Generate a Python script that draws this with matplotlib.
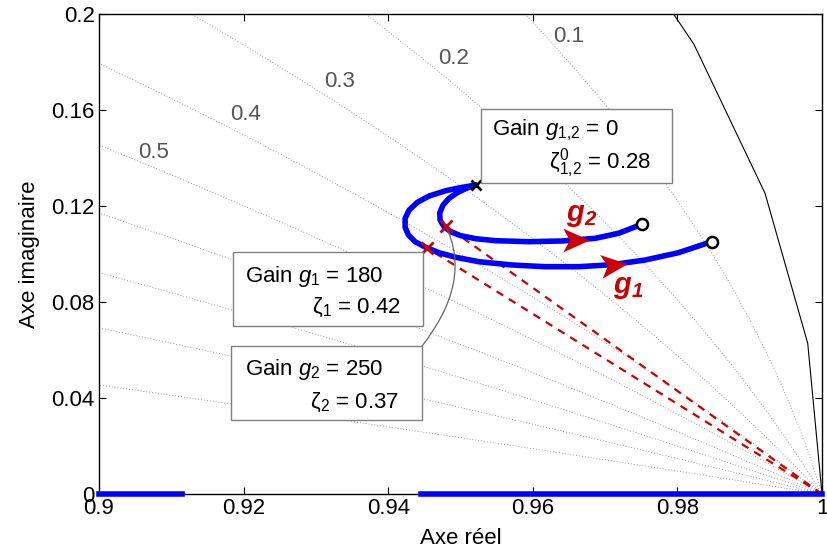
import numpy as np
import matplotlib
matplotlib.use('Agg')
import matplotlib.pyplot as plt
from matplotlib.markers import MarkerStyle
from matplotlib.path import Path
from matplotlib.patches import Rectangle
from matplotlib.transforms import Affine2D

plt.rcParams['font.family'] = 'Liberation Sans'
plt.rcParams['mathtext.fontset'] = 'custom'
plt.rcParams['mathtext.rm'] = 'Liberation Sans'
plt.rcParams['mathtext.it'] = 'Liberation Sans:italic'
plt.rcParams['mathtext.bf'] = 'Liberation Sans:bold:italic'

locus_g1_re = [0.95214, 0.95025, 0.94796, 0.94566, 0.94404, 0.9429, 0.94234, 0.94234, 0.9428,
               0.94372, 0.9452, 0.94703, 0.94934, 0.95255, 0.95714, 0.96175, 0.96634, 0.97094,
               0.97554, 0.98014, 0.98473]
locus_g1_im = [0.12875, 0.12779, 0.12638, 0.12417, 0.12154, 0.11833, 0.11488, 0.11113, 0.10792,
               0.10513, 0.10279, 0.10054, 0.09863, 0.09679, 0.09542, 0.09471, 0.09471, 0.09554,
               0.0975, 0.10054, 0.10513]
locus_g2_re = [0.95214, 0.9508, 0.94956, 0.94841, 0.94759, 0.94713, 0.94717, 0.94772, 0.94865,
               0.95003, 0.9521, 0.95486, 0.95945, 0.96404, 0.96865, 0.97186, 0.97508]
locus_g2_im = [0.12875, 0.12738, 0.12554, 0.12321, 0.12042, 0.11721, 0.11417, 0.11138, 0.10929,
               0.10763, 0.10638, 0.10554, 0.10513, 0.10542, 0.10654, 0.10863, 0.11238]
real_branches = [(0.9, 0.9115), (0.9445, 1.0)]

pole = (0.95214, 0.12875)
zeros_re = [0.98473, 0.97508]
zeros_im = [0.10513, 0.11238]
sel_re = [0.94538, 0.94795]     # g1 = 180, g2 = 250
sel_im = [0.1025, 0.1118]
origin = (1.0, 0.0)

arrow_re = [0.97117, 0.96593]
arrow_im = [0.09542, 0.10575]
arrow_ang = [6, 0]

zetas = [0.1, 0.2, 0.3, 0.4, 0.5, 0.6, 0.7, 0.8, 0.9]
zeta_lbl_re = [0.9650, 0.9491, 0.9333, 0.9203, 0.9076]
zeta_lbl_im = [0.1908, 0.1813, 0.1717, 0.1583, 0.1425]

blue = '#0000FF'
red = '#CC0000'

fig = plt.figure(figsize=(8.28, 5.57), dpi=100)
ax = fig.add_axes([99/828, 63/557, 723/828, 480/557])

# damping grid (zgrid style)
for z in zetas:
    w = np.linspace(0, np.pi / np.sqrt(1 - z**2), 400)
    s = np.exp(w * (-z + 1j * np.sqrt(1 - z**2)))
    ax.plot(s.real, s.imag, ls=(0, (1, 2.5)), color='0.5', lw=0.6, zorder=1)
for lbl, xr, yi in zip(zetas, zeta_lbl_re, zeta_lbl_im):
    ax.text(xr, yi, str(lbl), color='#555555', fontsize=16, ha='center', va='center')

# unit circle
th = np.linspace(0, 2 * np.pi, 101)
ax.plot(np.cos(th), np.sin(th), color='k', lw=0.8, zorder=2)

# red dashed lines to selected gains
for xr, yi in zip(sel_re, sel_im):
    ax.plot([origin[0], xr], [origin[1], yi], color=red, ls=(0, (3.5, 3)), lw=1.6, zorder=3)

# loci
ax.plot(locus_g1_re, locus_g1_im, color=blue, lw=4, solid_capstyle='round',
        solid_joinstyle='round', zorder=4)
ax.plot(locus_g2_re, locus_g2_im, color=blue, lw=4, solid_capstyle='round',
        solid_joinstyle='round', zorder=4)
for a, b in real_branches:
    ax.plot([a, b], [0, 0], color=blue, lw=4, clip_on=False, zorder=4)

ax.plot(zeros_re, zeros_im, 'o', mfc='white', mec='k', mew=1.8, ms=8, zorder=6)
ax.plot(*pole, 'x', color='k', mew=2, ms=7, zorder=6)
ax.plot(sel_re, sel_im, 'x', color=red, mew=2, ms=9, zorder=6)

head = Path([(1, 0), (-1, 0.9), (-0.5, 0), (-1, -0.9), (1, 0)],
            [Path.MOVETO, Path.LINETO, Path.LINETO, Path.LINETO, Path.CLOSEPOLY])
for xr, yi, ang in zip(arrow_re, arrow_im, arrow_ang):
    m = MarkerStyle(head, transform=Affine2D().rotate_deg(ang))
    ax.plot(xr, yi, marker=m, color=red, ms=19, mew=0, zorder=7)

ax.text(0.96676, 0.11625, r'$\mathbf{g}_\mathbf{2}$', color=red, fontsize=21,
        ha='center', va='center', zorder=7)
ax.text(0.97324, 0.08625, r'$\mathbf{g}_\mathbf{1}$', color=red, fontsize=21,
        ha='center', va='center', zorder=7)

# annotation boxes
boxes = [
    ((0.95283, 0.12958, 0.02648, 0.03084), (0.95434, 0.15167), r'Gain $g_{\text{1,2}}$ = 0',
     (0.97641, 0.13792), r'ζ$^{0}_{\text{1,2}}$ = 0.28'),
    ((0.91848, 0.07, 0.02635, 0.03083), (0.92014, 0.09042), r'Gain $g_{\mathit{1}}$ = 180',
     (0.94179, 0.07792), r'ζ$_{1}$ = 0.42'),
    ((0.91821, 0.03083, 0.02648, 0.03084), (0.92014, 0.05167), r'Gain $g_{\mathit{2}}$ = 250',
     (0.94152, 0.03833), r'ζ$_{2}$ = 0.37'),
]
for (bx, by, bw, bh), p1, t1, p2, t2 in boxes:
    ax.add_patch(Rectangle((bx, by), bw, bh, facecolor='white', edgecolor='0.5', lw=1.0, zorder=8))
    ax.text(p1[0], p1[1], t1, fontsize=16, ha='left', va='center', zorder=9)
    ax.text(p2[0], p2[1], t2, fontsize=16, ha='right', va='center', zorder=9)

ax.annotate('', xy=(sel_re[1], sel_im[1]), xytext=(0.94469, 0.06167),
            arrowprops=dict(arrowstyle='-', color='0.4', lw=0.9, shrinkA=0, shrinkB=0,
                            connectionstyle='angle3,angleA=52,angleB=-64'), zorder=5)

ax.set_xlim(0.9, 1.0)
ax.set_ylim(0, 0.2)
ax.set_xticks([0.9, 0.92, 0.94, 0.96, 0.98, 1.0])
ax.set_xticklabels(['0.9', '0.92', '0.94', '0.96', '0.98', '1'])
ax.set_yticks([0, 0.04, 0.08, 0.12, 0.16, 0.2])
ax.set_yticklabels(['0', '0.04', '0.08', '0.12', '0.16', '0.2'])
ax.tick_params(direction='in', length=5, width=0.8, top=True, right=True, labelsize=16, pad=3)
for sp in ax.spines.values():
    sp.set_linewidth(1.0)
ax.set_xlabel('Axe réel', fontsize=16, labelpad=6)
ax.set_ylabel('Axe imaginaire', fontsize=16, labelpad=8)

fig.savefig('out.png', dpi=100)
